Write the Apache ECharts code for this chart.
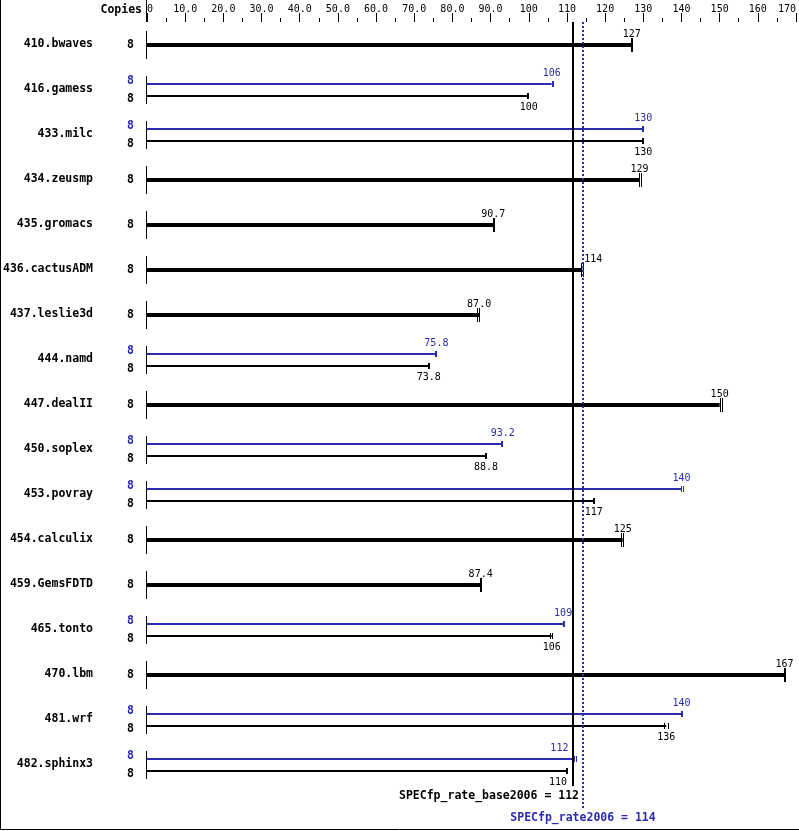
<!DOCTYPE html>
<html>
<head>
<meta charset="utf-8">
<script src="https://cdn.jsdelivr.net/npm/echarts@6/dist/echarts.min.js"></script>
<style>
  html, body { margin: 0; padding: 0; background: #fff; }
  #chart { width: 799px; height: 831px; }
</style>
</head>
<body>
<div id="chart"></div>
<script>
// benchmark rows, top to bottom
const benchmarks = ['410.bwaves', '416.gamess', '433.milc', '434.zeusmp', '435.gromacs',
  '436.cactusADM', '437.leslie3d', '444.namd', '447.dealII', '450.soplex', '453.povray',
  '454.calculix', '459.GemsFDTD', '465.tonto', '470.lbm', '481.wrf', '482.sphinx3'];
const baseCopies = [8, 8, 8, 8, 8, 8, 8, 8, 8, 8, 8, 8, 8, 8, 8, 8, 8];
const peakCopies = [null, 8, 8, null, null, null, null, 8, null, 8, 8, null, null, 8, null, 8, 8];
// base ratios (black), peak ratios (blue, only where a peak run differs)
const baseValues = [127, 100, 130, 129, 90.7, 114, 87.0, 73.8, 150, 88.8, 117, 124.6, 87.4, 106, 167, 136, 110];
const peakValues = [null, 106, 130, null, null, null, null, 75.8, null, 93.2, 140, null, null, 109, null, 140, 112];
// individual run marks at the bar ends
const baseTicks = [[127.1], [99.9], [130], [128.9, 129.4], [90.6, 90.9], [113.8, 114.3], [86.4, 87.0], [73.8],
  [150.0, 150.6], [88.8], [117.1], [124.2, 124.7], [87.4], [105.6, 106.1], [167.1], [135.5, 136.4], [110.1]];
const peakTicks = [null, [106.4], [130], null, null, null, null, [75.7], null, [93.1], [139.8, 140.4],
  null, null, [109.3], null, [140.1], [111.8, 112.3]];
// overall scores
const baseScore = 111.7;
const peakScore = 114.1;
// axis ticks
const axisMin = 0;
const axisMax = 170;
const axisStep = 10;

const BLUE = '#2b2bad';
const MONO = '"DejaVu Sans Mono", "Liberation Mono", monospace';

function fmt(v) {
  return v >= 100 ? v.toFixed(0) : v.toFixed(1);
}

const chart = echarts.init(document.getElementById('chart'));

function renderRow(params, api) {
  const i = api.value(1);
  const origin = api.coord([0, i]);
  const x0 = Math.round(origin[0]) - 0.5;
  const y = Math.round(origin[1]);
  const baseX = api.coord([baseScore, i])[0];
  const peakX = api.coord([peakScore, i])[0];
  const kids = [];

  // little vertical axis piece for each row
  kids.push({ type: 'line', shape: { x1: x0, y1: y - 14, x2: x0, y2: y + 14 },
    style: { stroke: '#000', lineWidth: 1 } });

  // value label, pushed off the score lines when it would sit on them
  function label(v, ly, color) {
    const ex = api.coord([v, i])[0];
    const txt = fmt(v);
    const w = txt.length * 6;
    let x = ex, align = 'center';
    const crosses = [baseX, peakX].some(lx => lx > ex - w / 2 && lx < ex + w / 2);
    if (crosses) {
      if (ex > (baseX + peakX) / 2) { x = ex + 2; align = 'left'; }
      else { x = Math.min(ex, baseX - 5); align = 'right'; }
    }
    kids.push({ type: 'text', style: { text: txt, x: x, y: ly, align: align, verticalAlign: 'middle',
      font: '10px ' + MONO, fill: color } });
  }

  function bar(v, ticks, by, width, tickHalf, color) {
    const ex = api.coord([v, i])[0];
    kids.push({ type: 'line', shape: { x1: x0, y1: by, x2: ex, y2: by },
      style: { stroke: color, lineWidth: width } });
    const tw = ticks.length > 1 ? 1 : 2;
    ticks.forEach(t => {
      const tx = Math.round(api.coord([t, i])[0]) + (tw === 1 ? 0.5 : 0);
      kids.push({ type: 'line', shape: { x1: tx, y1: by - tickHalf, x2: tx, y2: by + tickHalf },
        style: { stroke: color, lineWidth: tw } });
    });
  }

  function copies(n, cy, color) {
    kids.push({ type: 'text', style: { text: String(n), x: x0 - 16, y: cy, align: 'center',
      verticalAlign: 'middle', font: 'bold 11.5px ' + MONO, fill: color } });
  }

  if (peakValues[i] != null) {
    bar(peakValues[i], peakTicks[i], y - 6, 2, 3, BLUE);
    bar(baseValues[i], baseTicks[i], y + 6, 2, 3, '#000');
    label(peakValues[i], y - 17, BLUE);
    label(baseValues[i], y + 17, '#000');
    copies(peakCopies[i], y - 9, BLUE);
    copies(baseCopies[i], y + 9, '#000');
  } else {
    bar(baseValues[i], baseTicks[i], y, 4, 7, '#000');
    label(baseValues[i], y - 11, '#000');
    copies(baseCopies[i], y, '#000');
  }
  return { type: 'group', children: kids };
}

function renderScores(params, api) {
  const cs = params.coordSys;
  const top = cs.y, bottom = cs.y + cs.height;
  const bx = Math.round(api.coord([baseScore, 0])[0]);
  const px = Math.round(api.coord([peakScore, 0])[0]);
  const x0 = Math.round(cs.x) - 0.5;
  return {
    type: 'group',
    children: [
      // zero tick runs to the top edge
      { type: 'line', shape: { x1: x0, y1: 0, x2: x0, y2: top }, style: { stroke: '#000', lineWidth: 1 } },
      { type: 'line', shape: { x1: bx, y1: top, x2: bx, y2: bottom - 1 }, style: { stroke: '#000', lineWidth: 2 } },
      { type: 'line', shape: { x1: px, y1: top, x2: px, y2: bottom + 21 },
        style: { stroke: BLUE, lineWidth: 2, lineDash: [2, 2] } },
      { type: 'text', style: { text: 'SPECfp_rate_base2006 = ' + baseScore.toFixed(0), x: bx + 6, y: bottom + 9,
        align: 'right', verticalAlign: 'middle', font: 'bold 11.5px ' + MONO, fill: '#000' } },
      { type: 'text', style: { text: 'SPECfp_rate2006 = ' + peakScore.toFixed(0), x: px, y: bottom + 31,
        align: 'center', verticalAlign: 'middle', font: 'bold 11.5px ' + MONO, fill: BLUE } }
    ]
  };
}

const option = {
  animation: false,
  backgroundColor: '#fff',
  grid: { left: 147, right: 3, top: 22, height: 765 },
  xAxis: {
    type: 'value',
    position: 'top',
    min: axisMin,
    max: axisMax,
    interval: axisStep,
    axisLine: { show: false },
    axisTick: { show: true, length: 9, lineStyle: { color: '#000', width: 1 } },
    minorTick: { show: true, splitNumber: 2, length: 4, lineStyle: { color: '#000', width: 1 } },
    splitLine: { show: false },
    minorSplitLine: { show: false },
    axisLabel: {
      margin: 8,
      color: '#000',
      fontFamily: MONO,
      fontSize: 10,
      alignMinLabel: 'left',
      alignMaxLabel: 'right',
      formatter: v => (v === 0 ? '0' : v < 100 ? v.toFixed(1) : String(v))
    }
  },
  yAxis: {
    type: 'category',
    inverse: true,
    data: benchmarks,
    axisLine: { show: false },
    axisTick: { show: false },
    splitLine: { show: false },
    axisLabel: { margin: 54, color: '#000', fontFamily: MONO, fontSize: 11.5, fontWeight: 'bold' }
  },
  graphic: [
    { type: 'text', style: { text: 'Copies', x: 142, y: 10, align: 'right', verticalAlign: 'middle',
      font: 'bold 11.5px ' + MONO, fill: '#000' } },
    { type: 'line', shape: { x1: 0.5, y1: 0, x2: 0.5, y2: 830 }, style: { stroke: '#000', lineWidth: 1 } },
    { type: 'line', shape: { x1: 0, y1: 829.5, x2: 799, y2: 829.5 }, style: { stroke: '#000', lineWidth: 1 } }
  ],
  series: [
    {
      type: 'custom',
      renderItem: renderRow,
      encode: { x: 0, y: 1 },
      data: benchmarks.map((n, i) => [baseValues[i], i])
    },
    {
      type: 'custom',
      renderItem: renderScores,
      encode: { x: 0, y: 1 },
      data: [[baseScore, 0]]
    }
  ]
};

chart.setOption(option);
</script>
</body>
</html>
